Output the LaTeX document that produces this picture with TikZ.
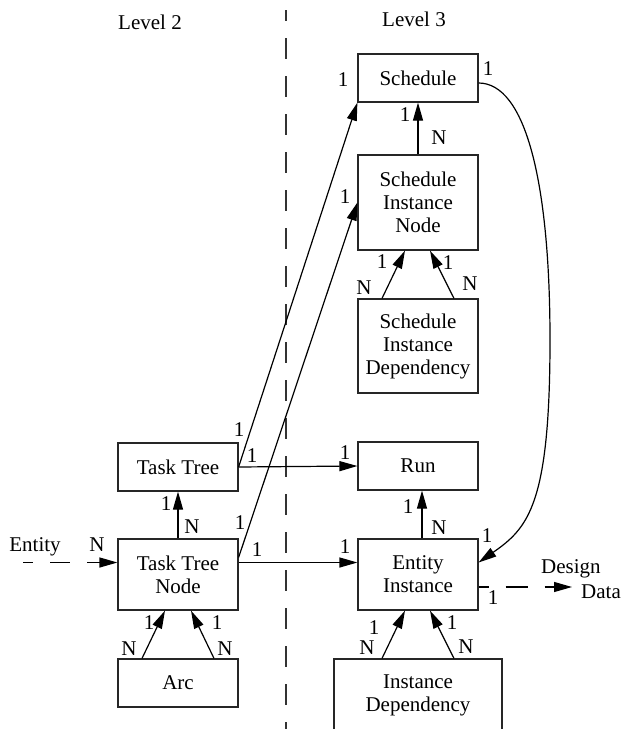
\documentclass[tikz,border=0pt]{standalone}
\usepackage{fontspec}
\setmainfont{Liberation Serif}
\usetikzlibrary{arrows.meta}
\begin{document}
\begin{tikzpicture}[x=1pt,y=-1pt,
  every node/.style={font=\fontsize{21}{23}\selectfont, inner sep=0pt},
  entity/.style={draw=black!85, line width=1.2pt, rectangle,
    minimum width=120pt, align=center},
  card/.style={inner sep=0pt},
  rel/.style={line width=1.2pt, -{Triangle[length=18pt,width=10pt]}},
  divider/.style={line width=1.3pt, black!80,
    dash pattern=on 21pt off 17pt, dash phase=10pt}
]
\useasboundingbox (0,0) rectangle (621,729);

% level divider
\coordinate (divtop) at (286,10);
\coordinate (divbot) at (286,729);
\draw[divider] (divtop) -- (divbot);

\node (lv2) at (150,22) {Level 2};
\node (lv3) at (414,19) {Level 3};

% entities
\node[entity, minimum height=48pt] (sched) at (418,78) {Schedule};
\node[entity, minimum height=95pt] (sin) at (418,202.5) {Schedule\\Instance\\Node};
\node[entity, minimum height=94pt] (sid) at (418,346) {Schedule\\Instance\\Dependency};
\node[entity, minimum height=48pt] (tt) at (178,467) {Task Tree};
\node[entity, minimum height=71pt] (ttn) at (178,574.5) {Task Tree\\Node};
\node[entity, minimum height=48pt] (arc) at (178,683) {Arc};
\node[entity, minimum height=48pt] (run) at (418,466) {Run};
\node[entity, minimum height=71pt] (ei) at (418,574.5) {Entity\\Instance};
\node[entity, minimum width=168pt, minimum height=72pt] (idep) at (418,695) {Instance\\Dependency};

% relationships
\draw[rel] (sin.north) -- (sched.south);
\draw[rel] (tt.east) -- (sched.south west);
\draw[rel] ([yshift=17pt]ttn.east) -- (sin.west);
\draw[rel] (tt.east) -- (run.west);
\draw[rel] ([yshift=12pt]ttn.east) -- ([yshift=12pt]ei.west);
\draw[rel] (ttn.north) -- (tt.south);
\draw[rel] ([xshift=4pt]ei.north) -- ([xshift=4pt]run.south);
\draw[rel] ([xshift=-36pt]sid.north) -- ([xshift=-13pt]sin.south);
\draw[rel] ([xshift=36pt]sid.north) -- ([xshift=12pt]sin.south);
\draw[rel] ([xshift=-36pt]arc.north) -- ([xshift=-13pt]ttn.south);
\draw[rel] ([xshift=36pt]arc.north) -- ([xshift=13pt]ttn.south);
\draw[rel] ([xshift=-36pt]idep.north) -- ([xshift=-13pt]ei.south);
\draw[rel] ([xshift=36pt]idep.north) -- ([xshift=12pt]ei.south);
\draw[rel] ([yshift=-5pt]sched.east) .. controls (525,83) and (550,180) .. (550,340)
  .. controls (550,505) and (528,528) .. ([yshift=12pt]ei.east);

% external links
\coordinate (entsrc) at (23,562.5);
\draw[rel, dash pattern=on 20pt off 17pt, dash phase=10pt] (entsrc) -- ([yshift=12pt]ttn.west);
\node (enttxt) at (35,547) {Entity};
\coordinate (ddst) at (572,587);
\draw[rel, dash pattern=on 22pt off 17pt, dash phase=12pt] ([yshift=-12.5pt]ei.east) -- (ddst);
\node[anchor=west] (dsg) at (541,569) {Design};
\node[anchor=west] (dat) at (581,592) {Data};

% cardinalities
\node[card] (k1) at (343,80) {1};
\node[card] (k2) at (488,69) {1};
\node[card] (k3) at (405,115) {1};
\node[card] (k4) at (439,138) {N};
\node[card] (k5) at (345,197) {1};
\node[card] (k6) at (382,262) {1};
\node[card] (k7) at (364,288) {N};
\node[card] (k8) at (448,263) {1};
\node[card] (k9) at (470,284) {N};
\node[card] (k10) at (239,430) {1};
\node[card] (k11) at (252,456) {1};
\node[card] (k12) at (166,504) {1};
\node[card] (k13) at (192,527) {N};
\node[card] (k14) at (240,523) {1};
\node[card] (k15) at (257,550) {1};
\node[card] (k16) at (97,545) {N};
\node[card] (k17) at (149,623) {1};
\node[card] (k18) at (129,649) {N};
\node[card] (k19) at (217,623) {1};
\node[card] (k20) at (225,649) {N};
\node[card] (k21) at (345,453) {1};
\node[card] (k22) at (408,507) {1};
\node[card] (k23) at (439,528) {N};
\node[card] (k24) at (487,536) {1};
\node[card] (k25) at (345,547) {1};
\node[card] (k26) at (493,598) {1};
\node[card] (k27) at (374,628) {1};
\node[card] (k28) at (367,648) {N};
\node[card] (k29) at (452,623) {1};
\node[card] (k30) at (466,647) {N};
\end{tikzpicture}
\end{document}
